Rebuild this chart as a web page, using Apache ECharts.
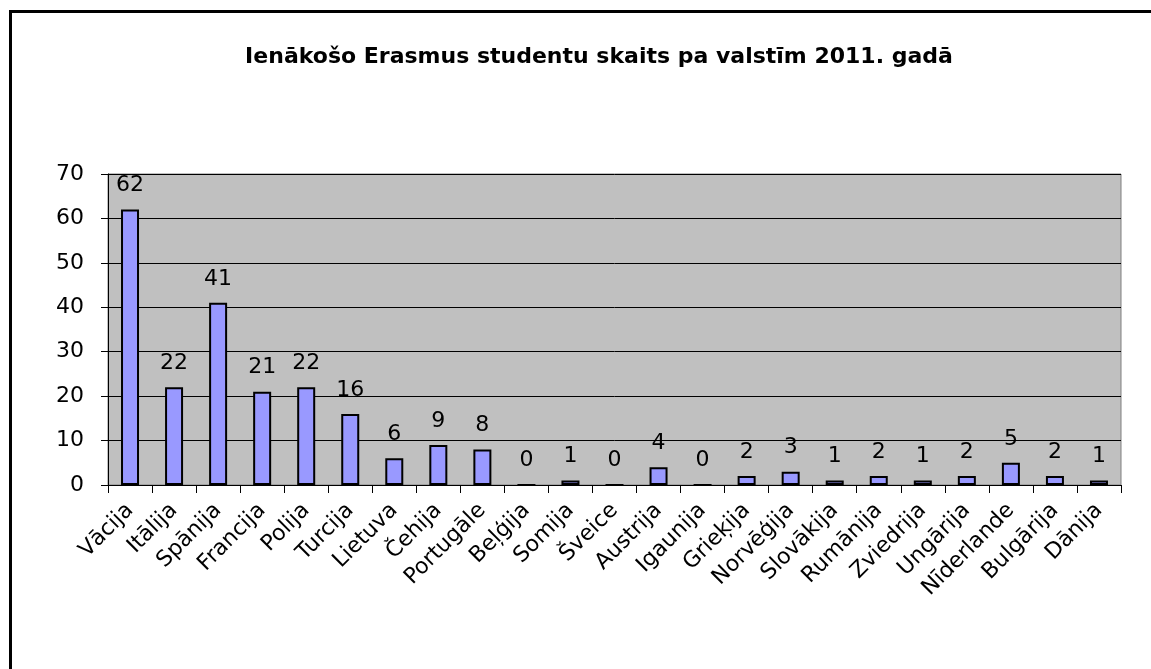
<!DOCTYPE html>
<html><head><meta charset="utf-8">
<script src="https://cdn.jsdelivr.net/npm/echarts@6/dist/echarts.min.js"></script>
<style>html,body{margin:0;padding:0;background:#fff}#c{width:1151px;height:669px}</style>
</head><body><div id="c"></div>
<script>
const titleText = 'Ienākošo Erasmus studentu skaits pa valstīm 2011. gadā';
const categories = ['Vācija','Itālija','Spānija','Francija','Polija','Turcija','Lietuva','Čehija','Portugāle','Beļģija','Somija','Šveice','Austrija','Igaunija','Grieķija','Norvēģija','Slovākija','Rumānija','Zviedrija','Ungārija','Nīderlande','Bulgārija','Dānija'];
const values = [62,22,41,21,22,16,6,9,8,0,1,0,4,0,2,3,1,2,1,2,5,2,1];
const yTicks = {min:0, max:70, interval:10};
const FF = '"DejaVu Sans", "Liberation Sans", Arial, sans-serif';
const chart = echarts.init(document.getElementById('c'), null, {renderer:'canvas'});
chart.setOption({
  animation:false,
  backgroundColor:'#fff',
  graphic:[{type:'rect', shape:{x:10.5,y:11.5,width:1200,height:700}, style:{fill:'none', stroke:'#000', lineWidth:3}, silent:true}],
  title:{text:titleText, left:594, top:41, textAlign:'center',
    textStyle:{fontFamily:FF, fontWeight:'bold', fontSize:22, color:'#000'}},
  grid:{left:108, right:30, top:174, bottom:184, show:true, backgroundColor:'#C0C0C0', borderColor:'#808080', borderWidth:1},
  xAxis:{type:'category', data:categories, boundaryGap:true,
    axisLine:{lineStyle:{color:'#000', width:1}},
    axisTick:{show:true, length:8, lineStyle:{color:'#000'}},
    axisLabel:{interval:0, rotate:45, fontFamily:FF, fontSize:22, color:'#000', margin:22}},
  yAxis:{type:'value', min:yTicks.min, max:yTicks.max, interval:yTicks.interval,
    axisLine:{show:true, lineStyle:{color:'#000', width:1}},
    axisTick:{show:true, length:7, lineStyle:{color:'#000'}},
    axisLabel:{fontFamily:FF, fontSize:22, color:'#000', margin:24},
    splitLine:{lineStyle:{color:'#000', width:1}}},
  series:[{type:'bar', data:values, barWidth:18,
    itemStyle:{color:'#9999FF', borderColor:'#000', borderWidth:2},
    label:{show:true, position:'top', distance:13, fontFamily:FF, fontSize:22, color:'#000'}}]
});
</script></body></html>
